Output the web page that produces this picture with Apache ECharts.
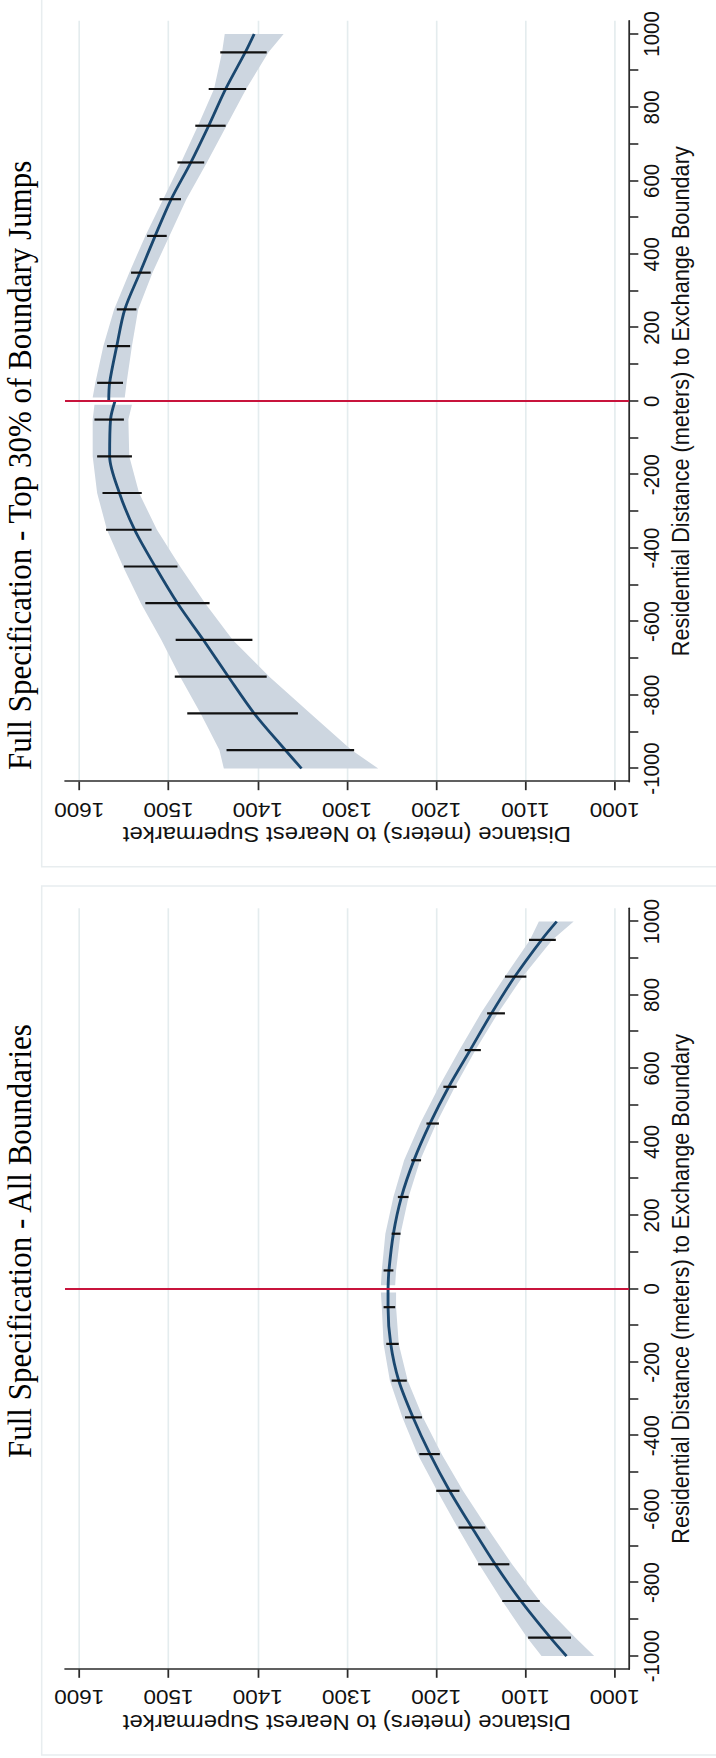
<!DOCTYPE html>
<html><head><meta charset="utf-8">
<script src="https://cdn.jsdelivr.net/npm/echarts@6/dist/echarts.min.js"></script>
<style>
html,body{margin:0;padding:0;background:#fff;overflow:hidden;}
#wrap{position:absolute;left:0;top:0;width:716px;height:1758px;overflow:hidden;background:#fff;}
#c{position:absolute;left:0;top:0;width:1758px;height:651px;transform-origin:0 0;transform:translate(0,1758px) scale(1.1,1) rotate(-90deg);}
</style></head>
<body><div id="wrap"><div id="c"></div></div>
<script>
// ---------- texts ----------
const panelTitles = ['Full Specification - All Boundaries', 'Full Specification - Top 30% of Boundary Jumps'];
const xAxisTitle = 'Residential Distance (meters) to Exchange Boundary';
const yAxisTitle = 'Distance (meters) to Nearest Supermarket';

// ---------- ticks ----------
const resTicks = [-1000,-900,-800,-700,-600,-500,-400,-300,-200,-100,0,100,200,300,400,500,600,700,800,900,1000];
const resLabels = [-1000,-800,-600,-400,-200,0,200,400,600,800,1000];
const supTicks = [1000,1100,1200,1300,1400,1500,1600];
const cutoff = 0;

// ---------- positions along residential distance ----------
const lineRLeft  = [-1000,-950,-850,-750,-650,-550,-450,-350,-250,-150,-50,0];
const lineRRight = [0,50,150,250,350,450,550,650,750,850,950,1000];
const bandRLeft  = [-1000,-950,-850,-750,-650,-550,-450,-350,-250,-150,-50,-10];
const bandRRight = [10,50,150,250,350,450,550,650,750,850,950,1000];
const binR = [-950,-850,-750,-650,-550,-450,-350,-250,-150,-50,50,150,250,350,450,550,650,750,850,950];

// ---------- All Boundaries ----------
const allFitLeft  = [1054,1072,1105,1134,1160,1185,1207,1226,1242,1251,1254,1254];
const allFitRight = [1254,1253,1248,1239,1225,1207,1186,1162,1138,1112,1082,1065];
const allBandLoLeft  = [1023,1044,1084,1115,1143,1170,1194,1215,1232,1242,1245,1245];
const allBandHiLeft  = [1082,1098,1126,1152,1176,1199,1221,1238,1252,1259,1261,1262];
const allBandLoRight = [1246,1245,1240,1231,1218,1200,1179,1156,1131,1103,1070,1046];
const allBandHiRight = [1262,1261,1257,1248,1236,1218,1197,1174,1150,1123,1095,1085];
const allBarLo = [1049,1084,1118,1145,1174,1196,1216,1233,1242,1246,1248,1240,1231,1217,1197,1177,1150,1123,1099,1066];
const allBarHi = [1097,1126,1153,1175,1200,1219,1235,1250,1256,1259,1259,1250,1243,1228,1211,1192,1168,1143,1123,1096];

// ---------- Top 30% of Boundary Jumps ----------
const topFitLeft  = [1351,1369,1404,1433,1461,1490,1515,1538,1555,1566,1565,1560];
const topFitRight = [1567,1566,1558,1549,1532,1515,1497,1475,1455,1436,1414,1404];
const topBandLoLeft  = [1265,1295,1341,1387,1428,1459,1487,1513,1533,1544,1545,1541];
const topBandHiLeft  = [1438,1443,1464,1487,1508,1531,1551,1569,1580,1585,1585,1583];
const topBandLoRight = [1549,1547,1541,1534,1518,1499,1480,1457,1435,1413,1388,1371];
const topBandHiRight = [1585,1582,1573,1561,1544,1526,1506,1486,1467,1449,1440,1437];
const topBarLo = [1292,1355,1390,1406,1454,1490,1519,1530,1541,1550,1551,1543,1536,1520,1502,1486,1460,1436,1413,1390];
const topBarHi = [1435,1479,1493,1492,1526,1550,1570,1574,1580,1583,1580,1569,1558,1542,1524,1510,1490,1470,1455,1442];

const panels = [
  {fitL: allFitLeft, fitR: allFitRight, bLoL: allBandLoLeft, bHiL: allBandHiLeft, bLoR: allBandLoRight, bHiR: allBandHiRight, barLo: allBarLo, barHi: allBarHi},
  {fitL: topFitLeft, fitR: topFitRight, bLoL: topBandLoLeft, bHiL: topBandHiLeft, bLoR: topBandLoRight, bHiR: topBandHiRight, barLo: topBarLo, barHi: topBarHi}
];

// ---------- styling / layout ----------
const SANS = 'Liberation Sans, Arial, Helvetica, sans-serif';
const SERIF = 'Liberation Serif, Times New Roman, serif';
const NAVY = '#1a476f', BAND = '#cdd6e0', AXIS = '#2b2b2b', GRIDC = '#e4ecee', RED = '#c8143c';
const gridLefts = [88.7, 976.3];
const titleLefts = [300, 988];

const chart = echarts.init(document.getElementById('c'), null, {renderer: 'svg', width: 1758, height: 651});

const grids = [], xAxes = [], yAxes = [], series = [], titles = [];
panels.forEach((P, p) => {
  grids.push({left: gridLefts[p], width: 761, top: 59.1, bottom: 79.2, containLabel: false});
  xAxes.push({
    type: 'value', gridIndex: p, min: -1036, max: 1036, position: 'bottom',
    axisLine: {show: true, onZero: false, lineStyle: {color: AXIS, width: 1.6}},
    axisTick: {show: true, customValues: resTicks, length: 8.5, lineStyle: {color: AXIS, width: 1.6}},
    axisLabel: {customValues: resLabels, formatter: v => String(v), fontSize: 20.5, fontFamily: SANS, color: '#111', margin: 10},
    splitLine: {show: false},
    name: xAxisTitle, nameLocation: 'middle', nameGap: 35,
    nameTextStyle: {fontSize: 21.7, fontFamily: SANS, color: '#111'}
  });
  yAxes.push({
    type: 'value', gridIndex: p, min: 984, max: 1616, position: 'left',
    axisLine: {show: true, onZero: false, lineStyle: {color: AXIS, width: 1.6}},
    axisTick: {show: true, customValues: supTicks, length: 8.5, lineStyle: {color: AXIS, width: 1.6}},
    axisLabel: {customValues: supTicks, formatter: v => String(v), rotate: 90, fontSize: 20.5, fontFamily: SANS, color: '#111', margin: 17},
    splitLine: {show: true, lineStyle: {color: GRIDC, width: 1.5}},
    name: yAxisTitle, nameLocation: 'middle', nameGap: 42,
    nameTextStyle: {fontSize: 21.7, fontFamily: SANS, color: '#111'}
  });
  titles.push({text: panelTitles[p], left: titleLefts[p], top: 2.6, padding: 0,
    textStyle: {fontFamily: SERIF, fontSize: 31, fontWeight: 'normal', color: '#000'}});

  // confidence band (two pieces, each side of the cutoff)
  series.push({
    type: 'custom', xAxisIndex: p, yAxisIndex: p, z: 1, silent: true,
    data: [[-500, 1300, 0], [500, 1300, 1]],
    encode: {x: 0, y: 1},
    renderItem: function (params, api) {
      const side = api.value(2);
      const rs = side === 0 ? bandRLeft : bandRRight;
      const lo = side === 0 ? P.bLoL : P.bLoR;
      const hi = side === 0 ? P.bHiL : P.bHiR;
      const pts = [];
      for (let i = 0; i < rs.length; i++) pts.push(api.coord([rs[i], hi[i]]));
      for (let i = rs.length - 1; i >= 0; i--) pts.push(api.coord([rs[i], lo[i]]));
      return {type: 'polygon', shape: {points: pts}, style: {fill: BAND, stroke: null}};
    }
  });
  // fitted lines
  series.push({
    type: 'line', xAxisIndex: p, yAxisIndex: p, z: 3, silent: true, smooth: 0.3, symbol: 'none',
    data: lineRLeft.map((r, i) => [r, P.fitL[i]]),
    lineStyle: {color: NAVY, width: 2.6},
    markLine: {silent: true, symbol: ['none', 'none'], label: {show: false}, animation: false,
      lineStyle: {color: RED, width: 2, type: 'solid'}, data: [{xAxis: cutoff}]}
  });
  series.push({
    type: 'line', xAxisIndex: p, yAxisIndex: p, z: 3, silent: true, smooth: 0.3, symbol: 'none',
    data: lineRRight.map((r, i) => [r, P.fitR[i]]),
    lineStyle: {color: NAVY, width: 2.6}
  });
  // binned CI bars
  series.push({
    type: 'custom', xAxisIndex: p, yAxisIndex: p, z: 4, silent: true,
    data: binR.map((r, i) => [r, P.barLo[i], P.barHi[i]]),
    encode: {x: 0, y: [1, 2]},
    renderItem: function (params, api) {
      const a = api.coord([api.value(0), api.value(1)]);
      const b = api.coord([api.value(0), api.value(2)]);
      return {type: 'line', shape: {x1: a[0], y1: a[1], x2: b[0], y2: b[1]}, style: {stroke: '#111', lineWidth: 2.2}};
    }
  });
});

chart.setOption({
  backgroundColor: '#fff',
  animation: false,
  title: titles,
  grid: grids,
  xAxis: xAxes,
  yAxis: yAxes,
  series: series,
  graphic: [
    {type: 'rect', z: -10, silent: true, shape: {x: 3, y: 37.9, width: 869, height: 700}, style: {fill: 'none', stroke: '#e8edef', lineWidth: 1.4}},
    {type: 'rect', z: -10, silent: true, shape: {x: 891.3, y: 37.9, width: 900, height: 700}, style: {fill: 'none', stroke: '#e8edef', lineWidth: 1.4}}
  ]
});
</script>
</body></html>
